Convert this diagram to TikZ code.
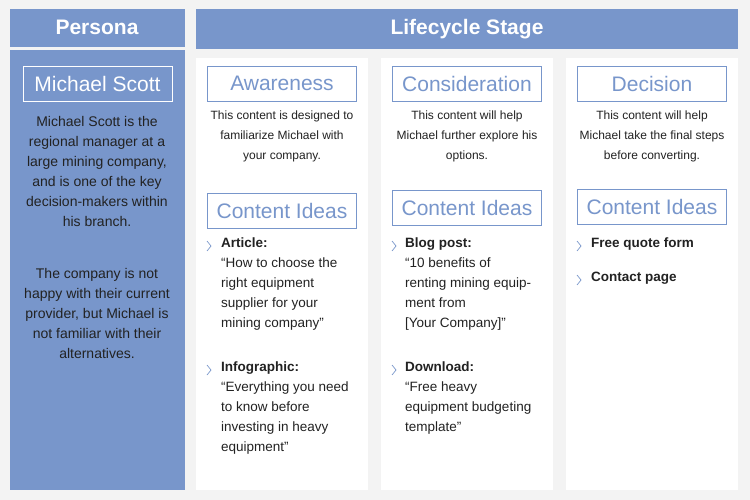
\documentclass[tikz,border=0pt]{standalone}
\usepackage{fontspec}
\setmainfont{Liberation Sans}
\definecolor{bg}{HTML}{F3F3F3}
\definecolor{bl}{HTML}{7896CB}
\definecolor{tx}{HTML}{222222}
\begin{document}
\begin{tikzpicture}[x=1pt,y=-1pt,
  hdr/.style={text=white,font=\fontsize{21}{24}\selectfont\bfseries},
  pbox/.style={draw=white,line width=0.8pt,minimum width=149pt,minimum height=35pt,text=white,font=\fontsize{21}{24}\selectfont},
  sbox/.style={draw=bl,line width=0.8pt,fill=white,minimum width=149pt,minimum height=35pt,text=bl,font=\fontsize{21}{24}\selectfont},
  ptext/.style={align=center,text=tx,font=\fontsize{14}{20}\selectfont,anchor=north,inner sep=0pt},
  dtext/.style={align=center,text=tx,font=\fontsize{12}{20}\selectfont,anchor=north,inner sep=0pt},
  item/.style={align=left,text=tx,font=\fontsize{13.5}{20}\selectfont,anchor=north west,inner sep=0pt},
  chev/.style={draw=bl,line width=0.7pt}]
\fill[bg] (0,0) rectangle (750,500);
\useasboundingbox (0,0) rectangle (750,500);
% persona
\fill[bl] (10,9) rectangle (185,47);
\fill[bl] (10,50) rectangle (185,490);
\node[hdr] (ph) at (97,27) {Persona};
\node[pbox] (ms) at (97.5,83.5) {Michael Scott};
\node[ptext] (p1) at (97,116) {Michael Scott is the\\regional manager at a\\large mining company,\\and is one of the key\\decision-makers within\\his branch.};
\node[ptext] (p2) at (97,268) {The company is not\\happy with their current\\provider, but Michael is\\not familiar with their\\alternatives.};
% lifecycle
\fill[bl] (196,9) rectangle (738,49);
\node[hdr] (lh) at (467,29) {Lifecycle Stage};
\foreach \x in {196,381,566}{\fill[white] (\x,58) rectangle (\x+172,490);}
\node[sbox] (s1) at (282,83.5) {Awareness};
\node[sbox] (s2) at (467,83.5) {Consideration};
\node[sbox] (s3) at (652,83.5) {Decision};
\node[dtext] (d1) at (282,111) {This content is designed to\\familiarize Michael with\\your company.};
\node[dtext] (d2) at (467,111) {This content will help\\Michael further explore his\\options.};
\node[dtext] (d3) at (652,111) {This content will help\\Michael take the final steps\\before converting.};
\node[sbox] (c1) at (282,210.5) {Content Ideas};
\node[sbox] (c2) at (467,208) {Content Ideas};
\node[sbox] (c3) at (652,206.5) {Content Ideas};
% items
\newcommand{\chv}[2]{\draw[chev] (#1,#2-5) -- (#1+4,#2) -- (#1,#2+5);}
\chv{207}{246}\chv{207}{370}\chv{392}{246}\chv{392}{370}\chv{577}{246}\chv{577}{280}
\node[item] (i1) at (221,238) {\textbf{Article:}\\“How to choose the\\right equipment\\supplier for your\\mining company”};
\node[item] (i2) at (221,362) {\textbf{Infographic:}\\“Everything you need\\to know before\\investing in heavy\\equipment”};
\node[item] (i3) at (405,238) {\textbf{Blog post:}\\“10 benefits of\\renting mining equip-\\ment from\\{[Your Company]"}};
\node[item] (i4) at (405,362) {\textbf{Download:}\\“Free heavy\\equipment budgeting\\template”};
\node[item] (i5) at (591,238) {\textbf{Free quote form}};
\node[item] (i6) at (591,272) {\textbf{Contact page}};
\end{tikzpicture}
\end{document}
